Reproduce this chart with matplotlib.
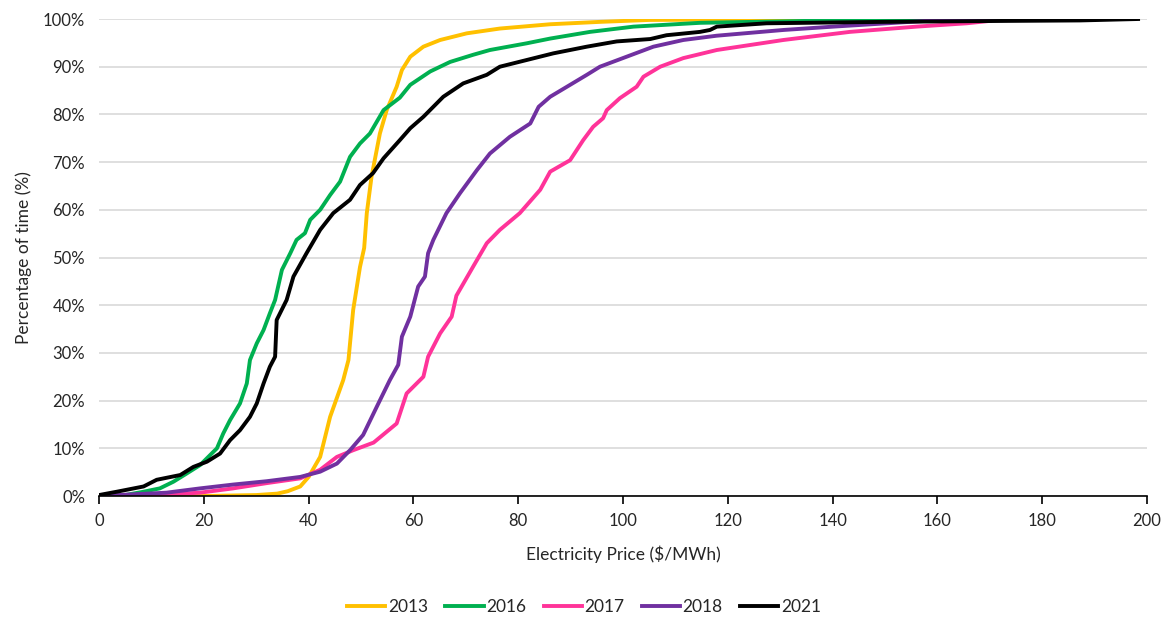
import matplotlib.pyplot as plt
from matplotlib.ticker import FuncFormatter

plt.rcParams['font.family'] = ['Lato', 'DejaVu Sans']

# price ($/MWh) and cumulative share of time (%)
price_2013 = [0, 20, 30, 34, 36, 38.4, 40, 42.2, 44.1, 46.6, 47.6, 48.5, 49.8, 50.6, 51.1,
              52.0, 53.6, 54.9, 56.8, 57.8, 59.4, 61.9, 65.1, 70.2, 76.5, 86.1, 95.6, 105, 140]
share_2013 = [0, 0, 0.2, 0.5, 1.0, 2.0, 4.0, 8.2, 16.6, 24.3, 28.5, 39, 48, 52, 59.3,
              66.9, 76, 80.9, 85.8, 89.3, 92.1, 94.2, 95.6, 97, 98, 98.9, 99.4, 99.8, 100]

price_2016 = [0, 5, 8.5, 11.6, 14.2, 16.7, 19.3, 22.5, 23.7, 25, 26.9, 28.2, 28.8, 30.1,
              31.4, 32.6, 33.6, 34.9, 36.5, 37.7, 39.3, 40.3, 42.2, 44.1, 46, 47.9, 49.8,
              51.7, 54.3, 57.4, 59.4, 63.2, 67, 71.4, 74.6, 81.6, 86.1, 93.7, 102, 114.7,
              135, 158.6]
share_2016 = [0, 0.2, 0.9, 1.6, 3, 4.7, 6.5, 10, 13.1, 15.9, 19.4, 23.6, 28.5, 32,
              34.8, 38.3, 41.1, 47.4, 50.9, 53.7, 55.1, 57.9, 60, 63.1, 65.9, 71.1, 73.9,
              76, 80.9, 83.5, 86.2, 89, 91, 92.5, 93.5, 94.9, 95.9, 97.3, 98.4, 99.2,
              99.6, 100]

price_2017 = [0, 12.9, 19.3, 25.6, 32, 38.4, 42.2, 45.4, 48.5, 52.4, 56.8, 58.7, 61.9,
              62.8, 65.1, 67.3, 68.2, 71.4, 74, 76.5, 80.3, 84.2, 86.1, 89.9, 92.4, 94.3,
              96.2, 96.9, 99.4, 102.6, 103.9, 107.1, 111.5, 117.9, 130.6, 143.3, 156,
              165.6, 170]
share_2017 = [0, 0.3, 0.7, 1.6, 2.7, 3.7, 5.5, 8.2, 9.6, 11.2, 15.2, 21.5, 25,
              29.2, 34.1, 37.6, 42, 48.1, 53, 55.8, 59.3, 64.2, 68, 70.4, 74.6, 77.4,
              79.2, 80.9, 83.4, 85.8, 87.9, 90, 91.8, 93.5, 95.6, 97.3, 98.4,
              99.1, 99.6]

price_2018 = [0, 12.9, 19.3, 25.6, 32, 38.4, 42.2, 45.4, 47.9, 50.4, 53, 55.5, 57.1,
              57.8, 59.4, 60.9, 62.2, 62.8, 63.8, 66.3, 68.9, 72.1, 74.6, 78.4, 82.3,
              83.9, 86.1, 89.3, 93.1, 95.6, 100.7, 105.8, 111.5, 117.9, 130.6, 140.1,
              159.2, 175]
share_2018 = [0, 0.7, 1.6, 2.4, 3.1, 4, 5.1, 6.8, 9.6, 12.8, 18.7, 24.3, 27.5,
              33.4, 37.6, 43.9, 46, 50.9, 53.7, 59.3, 63.5, 68.3, 71.8, 75.3, 78.1,
              81.6, 83.7, 85.8, 88.3, 90, 92.1, 94.2, 95.6, 96.5, 97.7, 98.4,
              99.7, 100]

price_2021 = [0, 3.4, 8.5, 11, 15.5, 18, 20.6, 23.1, 25, 26.9, 28.8, 30.1, 31.4, 32.6,
              33.6, 33.9, 35.8, 37.1, 39.6, 42.2, 44.7, 47.9, 49.8, 52.3, 54.3, 57.4,
              59.4, 61.9, 65.7, 69.5, 74, 76.5, 81.6, 86.7, 93.1, 98.8, 105.2, 108.3,
              114.7, 116.6, 117.9, 127.4, 149.6, 173.2, 187.2, 198.3]
share_2021 = [0.2, 0.9, 2, 3.4, 4.4, 6.1, 7.2, 8.9, 11.7, 13.8, 16.6, 19.4, 23.6, 27.1,
              29.2, 36.9, 41.1, 46, 50.9, 55.8, 59.3, 62.1, 65.2, 67.7, 70.8, 74.6,
              77.1, 79.5, 83.7, 86.5, 88.3, 90, 91.4, 92.8, 94.2, 95.3, 95.8, 96.6,
              97.3, 97.7, 98.4, 99.1, 99.4, 99.6, 99.7, 100]

series = [
    ("2013", price_2013, share_2013, "#FFC000"),
    ("2016", price_2016, share_2016, "#00B050"),
    ("2017", price_2017, share_2017, "#FF3399"),
    ("2018", price_2018, share_2018, "#7030A0"),
    ("2021", price_2021, share_2021, "#000000"),
]

fig = plt.figure(figsize=(11.68, 6.19), dpi=100)
ax = fig.add_axes([0.0848, 0.1987, 0.8972, 0.7706])

for name, xs, ys, col in series:
    ax.plot(xs, ys, color=col, lw=2.8, label=name, solid_joinstyle="round")

ax.set_xlim(0, 200)
ax.set_ylim(0, 100)
ax.set_xticks(range(0, 201, 20))
ax.set_yticks(range(0, 101, 10))
ax.yaxis.set_major_formatter(FuncFormatter(lambda v, p: "%d%%" % v))
ax.grid(axis="y", color="#D9D9D9", lw=1.2)
ax.set_axisbelow(True)
for s in ["top", "right", "left"]:
    ax.spines[s].set_visible(False)
ax.spines["bottom"].set_color("black")
ax.spines["bottom"].set_linewidth(1.2)
ax.tick_params(axis="y", length=0, labelsize=12, colors="#262626", pad=10)
ax.tick_params(axis="x", direction="out", length=6, width=1.2, labelsize=12,
               colors="black", labelcolor="#262626", pad=6)

ax.set_xlabel("Electricity Price ($/MWh)", fontsize=12.5, color="#262626", labelpad=12)
ax.set_ylabel("Percentage of time (%)", fontsize=12.5, color="#262626", labelpad=8)

fig.legend(loc="center", bbox_to_anchor=(0.50, 0.019), ncol=5, frameon=False,
           fontsize=12.5, handlelength=2.2, handletextpad=0.15, columnspacing=1.0,
           labelcolor="#262626", borderpad=0)

fig.savefig("out.png", dpi=100)
